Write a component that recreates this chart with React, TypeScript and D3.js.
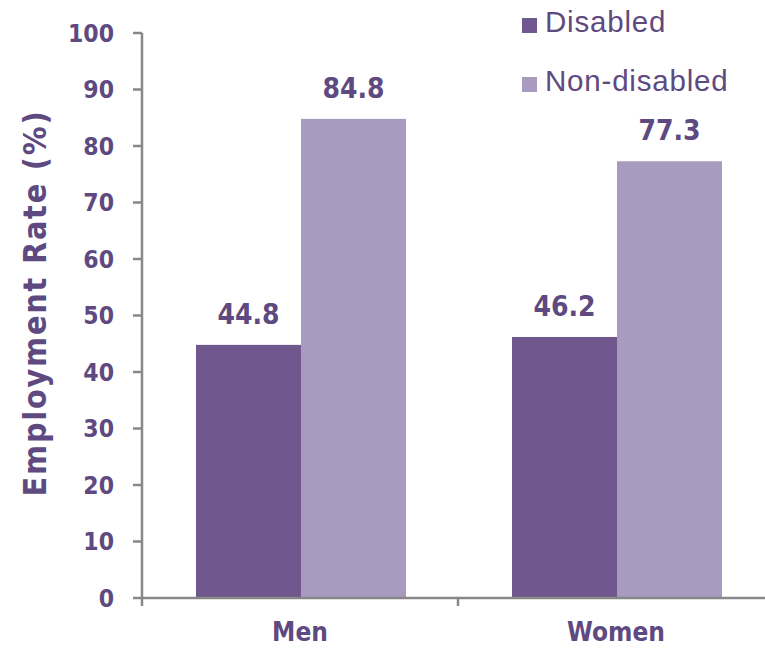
import React from "react";
import * as d3 from "d3";

const categories = ["Men", "Women"];
const seriesNames = ["Disabled", "Non-disabled"];
const disabledValues = [44.8, 46.2];
const nonDisabledValues = [84.8, 77.3];
const yTicks = [0, 10, 20, 30, 40, 50, 60, 70, 80, 90, 100];

const COLORS = ["#70578d", "#a99bbf"];
const TEXT = "#5e4a80";
const AXIS = "#888888";
const BOLD_FONT = "'DejaVu Sans Condensed', 'DejaVu Sans', sans-serif";
const LEG_FONT = "'Liberation Sans', Arial, sans-serif";

export default function App() {
  const W = 765, H = 649;
  const y = d3.scaleLinear().domain([0, 100]).range([598, 33]);
  const x0 = d3.scaleBand<string>().domain(categories).range([142, 774]).paddingInner(0).paddingOuter(0);
  const bw = x0.bandwidth();
  const x1 = d3.scaleBand<string>().domain(seriesNames).range([54, bw - 52]).padding(0);
  const values = [disabledValues, nonDisabledValues];

  return (
    <svg width={W} height={H} style={{ position: "absolute", left: 0, top: 0, background: "#fff" }}>
      {/* bars */}
      {categories.map((c, ci) =>
        seriesNames.map((s, si) => {
          const v = values[si][ci];
          const bx = (x0(c) as number) + (x1(s) as number);
          return (
            <g key={c + s}>
              <rect x={bx} y={y(v)} width={x1.bandwidth()} height={y(0) - y(v)} fill={COLORS[si]} />
              <text
                x={bx + x1.bandwidth() / 2}
                y={y(v) - 21}
                textAnchor="middle"
                fontFamily={BOLD_FONT}
                fontStretch="condensed"
                fontWeight="bold"
                fontSize={28}
                fill={TEXT}
              >
                {v.toFixed(1)}
              </text>
            </g>
          );
        })
      )}
      {/* y axis */}
      <line x1={142} x2={142} y1={y(100)} y2={y(0)} stroke={AXIS} strokeWidth={2.5} />
      {yTicks.map((t) => (
        <g key={t}>
          <line x1={133} x2={142} y1={y(t)} y2={y(t)} stroke={AXIS} strokeWidth={2.5} />
          <text
            x={114}
            y={y(t)}
            dy="0.36em"
            textAnchor="end"
            fontFamily={BOLD_FONT}
            fontStretch="condensed"
            fontWeight="bold"
            fontSize={24.5}
            fill={TEXT}
          >
            {t}
          </text>
        </g>
      ))}
      {/* x axis */}
      <line x1={142} x2={W} y1={y(0)} y2={y(0)} stroke={AXIS} strokeWidth={2.5} />
      {[...categories.map((c) => x0(c) as number), 774].map((tx, i) => (
        <line key={i} x1={tx} x2={tx} y1={y(0)} y2={y(0) + 8} stroke={AXIS} strokeWidth={2.5} />
      ))}
      {categories.map((c) => (
        <text
          key={c}
          x={(x0(c) as number) + bw / 2}
          y={641}
          textAnchor="middle"
          fontFamily={BOLD_FONT}
          fontStretch="condensed"
          fontWeight="bold"
          fontSize={26}
          fill={TEXT}
        >
          {c}
        </text>
      ))}
      {/* y title */}
      <text
        transform={`translate(46,303) rotate(-90)`}
        textAnchor="middle"
        fontFamily={BOLD_FONT}
        fontStretch="condensed"
        fontWeight="bold"
        fontSize={32}
        letterSpacing={1.8}
        fill={TEXT}
      >
        Employment Rate (%)
      </text>
      {/* legend */}
      {seriesNames.map((s, i) => (
        <g key={s} transform={`translate(522,${18 + i * 59})`}>
          <rect x={0} y={0} width={15} height={15} fill={COLORS[i]} />
          <text x={23} y={14} fontFamily={LEG_FONT} fontSize={29.5} letterSpacing={0.8} fill={TEXT}>
            {s}
          </text>
        </g>
      ))}
    </svg>
  );
}
